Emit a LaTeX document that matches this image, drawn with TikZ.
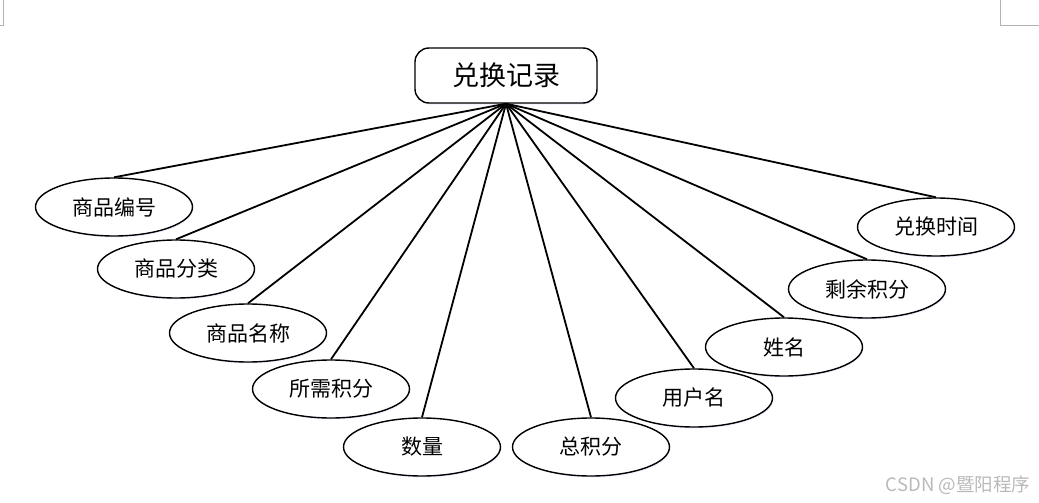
\documentclass[tikz,border=0pt]{standalone}
\usepackage{fontspec}
\setmainfont{Noto Sans CJK SC}
\usetikzlibrary{shapes.geometric, shadows}

\begin{document}
\begin{tikzpicture}[x=1pt, y=-1pt,
  attr/.style={ellipse, draw, line width=1.4pt, fill=white, minimum width=157pt, minimum height=58pt, inner sep=0pt, font=\fontsize{21}{21}\selectfont, drop shadow={shadow xshift=1pt, shadow yshift=-1.5pt, fill=blue!25, opacity=0.25}},
  link/.style={line width=1.8pt}]
  \useasboundingbox (0,0) rectangle (1039,503);
  % page corner marks
  \draw[gray!60, line width=0.6pt] (3,0) -- (3,25) -- (0,25);
  \draw[gray!60, line width=0.6pt] (1000,0) -- (1000,25) -- (1039,25);

  \node[rectangle, rounded corners=14pt, draw, line width=1.4pt, fill=white, minimum width=182pt, minimum height=55pt, font=\fontsize{27}{27}\selectfont, drop shadow={shadow xshift=1pt, shadow yshift=-1.5pt, fill=blue!25, opacity=0.25}] (0) at (506,75.5) {兑换记录};

  \node[attr] (1) at (114,207) {商品编号};
  \node[attr] (2) at (176,269) {商品分类};
  \node[attr] (3) at (248,333) {商品名称};
  \node[attr] (4) at (331,389) {所需积分};
  \node[attr] (5) at (422,447) {数量};
  \node[attr] (6) at (591,447) {总积分};
  \node[attr] (7) at (694,398) {用户名};
  \node[attr] (8) at (784,347) {姓名};
  \node[attr] (9) at (867,289) {剩余积分};
  \node[attr] (10) at (936,227) {兑换时间};

  \draw[link] (0.south) -- (1.north);
  \draw[link] (0.south) -- (2.north);
  \draw[link] (0.south) -- (3.north);
  \draw[link] (0.south) -- (4.north);
  \draw[link] (0.south) -- (5.north);
  \draw[link] (0.south) -- (6.north);
  \draw[link] (0.south) -- (7.north);
  \draw[link] (0.south) -- (8.north);
  \draw[link] (0.south) -- (9.north);
  \draw[link] (0.south) -- (10.north);

  \node[text=gray!55, font=\fontsize{18.5}{18.5}\selectfont] (wm) at (958,485) {CSDN @暨阳程序};
\end{tikzpicture}
\end{document}
